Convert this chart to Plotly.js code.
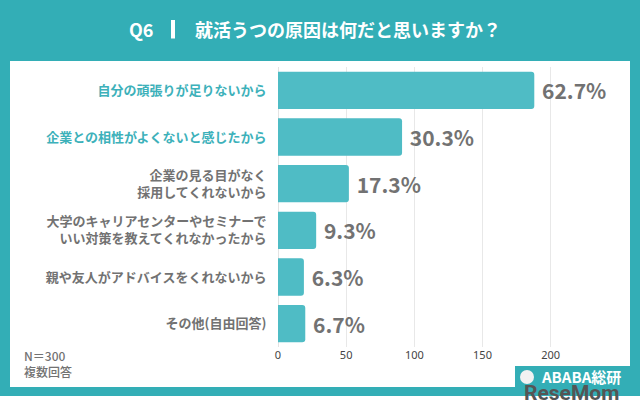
<!DOCTYPE html>
<html><head><meta charset="utf-8">
<script src="https://cdn.plot.ly/plotly-3.0.1.min.js"></script>
<style>html,body{margin:0;padding:0;background:#fff;}#chart{width:640px;height:417px;}</style>
</head><body><div id="chart"></div>
<script>
const categories = ['自分の頑張りが足りないから', '企業との相性がよくないと感じたから', '企業の見る目がなく<br>採用してくれないから', '大学のキャリアセンターやセミナーで<br>いい対策を教えてくれなかったから', '親や友人がアドバイスをくれないから', 'その他(自由回答)'];
const counts = [188, 91, 52, 28, 19, 20];
const percents = ['62.7%', '30.3%', '17.3%', '9.3%', '6.3%', '6.7%'];
const highlighted = [true, true, false, false, false, false];
const xTicks = [0, 50, 100, 150, 200];

const TEAL = '#33aeb6', BAR = '#4fbcc5', GRAY = '#727272', LABELTEAL = '#3db1ba';
const FONT = 'Noto Sans CJK JP, Noto Sans, sans-serif';
// pixel -> paper helpers for decoration placement
const L = 278, R = 612, T = 67, B = 347;
const px = v => (v - L) / (R - L);
const py = v => (B - v) / (B - T);

const ticktext = categories.map((c, i) => `<span style="color:${highlighted[i] ? LABELTEAL : GRAY}">${c}</span>`);

const trace = {
  type: 'bar', orientation: 'h',
  x: counts, y: categories,
  text: percents, texttemplate: '\u00a0%{text}', textposition: 'outside', cliponaxis: false,
  textfont: {family: FONT, size: 21, color: GRAY, weight: 700},
  marker: {color: BAR, cornerradius: 3},
  hoverinfo: 'skip'
};

const layout = {
  width: 640, height: 417,
  margin: {l: L, r: 640 - R, t: T, b: 417 - B, pad: 0},
  paper_bgcolor: '#ffffff', plot_bgcolor: 'rgba(0,0,0,0)',
  showlegend: false, bargap: 0.2,
  font: {family: FONT},
  xaxis: {range: [0, 245], tickvals: xTicks, showgrid: true, gridcolor: '#e8e8e8', gridwidth: 1,
          zeroline: true, zerolinecolor: '#e3e3e3', zerolinewidth: 1, showline: false,
          tickfont: {family: 'Noto Sans, sans-serif', size: 11, color: '#444'}, ticks: '', fixedrange: true},
  yaxis: {type: 'category', autorange: 'reversed', tickmode: 'array', tickvals: categories, ticktext: ticktext,
          ticks: 'outside', ticklen: 8, tickcolor: 'rgba(0,0,0,0)', showgrid: false, zeroline: false, showline: false,
          tickfont: {family: FONT, size: 13, color: GRAY, weight: 700}, fixedrange: true},
  shapes: [
    {type: 'rect', xref: 'paper', yref: 'paper', x0: px(0), x1: px(640), y0: py(0), y1: py(396), fillcolor: TEAL, line: {width: 0}, layer: 'below'},
    {type: 'rect', xref: 'paper', yref: 'paper', x0: px(10), x1: px(630), y0: py(61), y1: py(387), fillcolor: '#ffffff', line: {width: 0}, layer: 'below'},
    {type: 'rect', xref: 'paper', yref: 'paper', x0: px(515), x1: px(640), y0: py(366), y1: py(396), fillcolor: TEAL, line: {width: 0}, layer: 'below'},
    {type: 'rect', xref: 'paper', yref: 'paper', x0: px(171), x1: px(175), y0: py(20), y1: py(38.5), fillcolor: '#ffffff', line: {width: 0}, layer: 'above'},
    {type: 'circle', xref: 'paper', yref: 'paper', x0: px(520), x1: px(534), y0: py(370), y1: py(384), fillcolor: '#f2f2f2', line: {width: 0}, layer: 'above'}
  ],
  annotations: [
    {xref: 'paper', yref: 'paper', x: px(127), y: py(29), xanchor: 'left', yanchor: 'middle', showarrow: false,
     text: 'Q6', font: {family: FONT, size: 18, color: '#ffffff', weight: 700}},
    {xref: 'paper', yref: 'paper', x: px(193), y: py(29), xanchor: 'left', yanchor: 'middle', showarrow: false,
     text: '就活うつの原因は何だと思いますか？', font: {family: FONT, size: 18, color: '#ffffff', weight: 700}},
    {xref: 'paper', yref: 'paper', x: px(22), y: py(363), xanchor: 'left', yanchor: 'middle', showarrow: false, align: 'left',
     text: 'N＝300<br>複数回答', font: {family: FONT, size: 12, color: GRAY, weight: 500}},
    {xref: 'paper', yref: 'paper', x: px(539), y: py(376), xanchor: 'left', yanchor: 'middle', showarrow: false,
     text: 'ABABA総研', font: {family: FONT, size: 15, color: '#ffffff', weight: 700}},
    {xref: 'paper', yref: 'paper', x: px(522), y: py(393), xanchor: 'left', yanchor: 'middle', showarrow: false,
     text: 'ReseMom', font: {family: 'Roboto, sans-serif', size: 21, color: '#555555', weight: 700}}
  ]
};

Plotly.newPlot('chart', [trace], layout, {displayModeBar: false, staticPlot: true});
</script></body></html>
